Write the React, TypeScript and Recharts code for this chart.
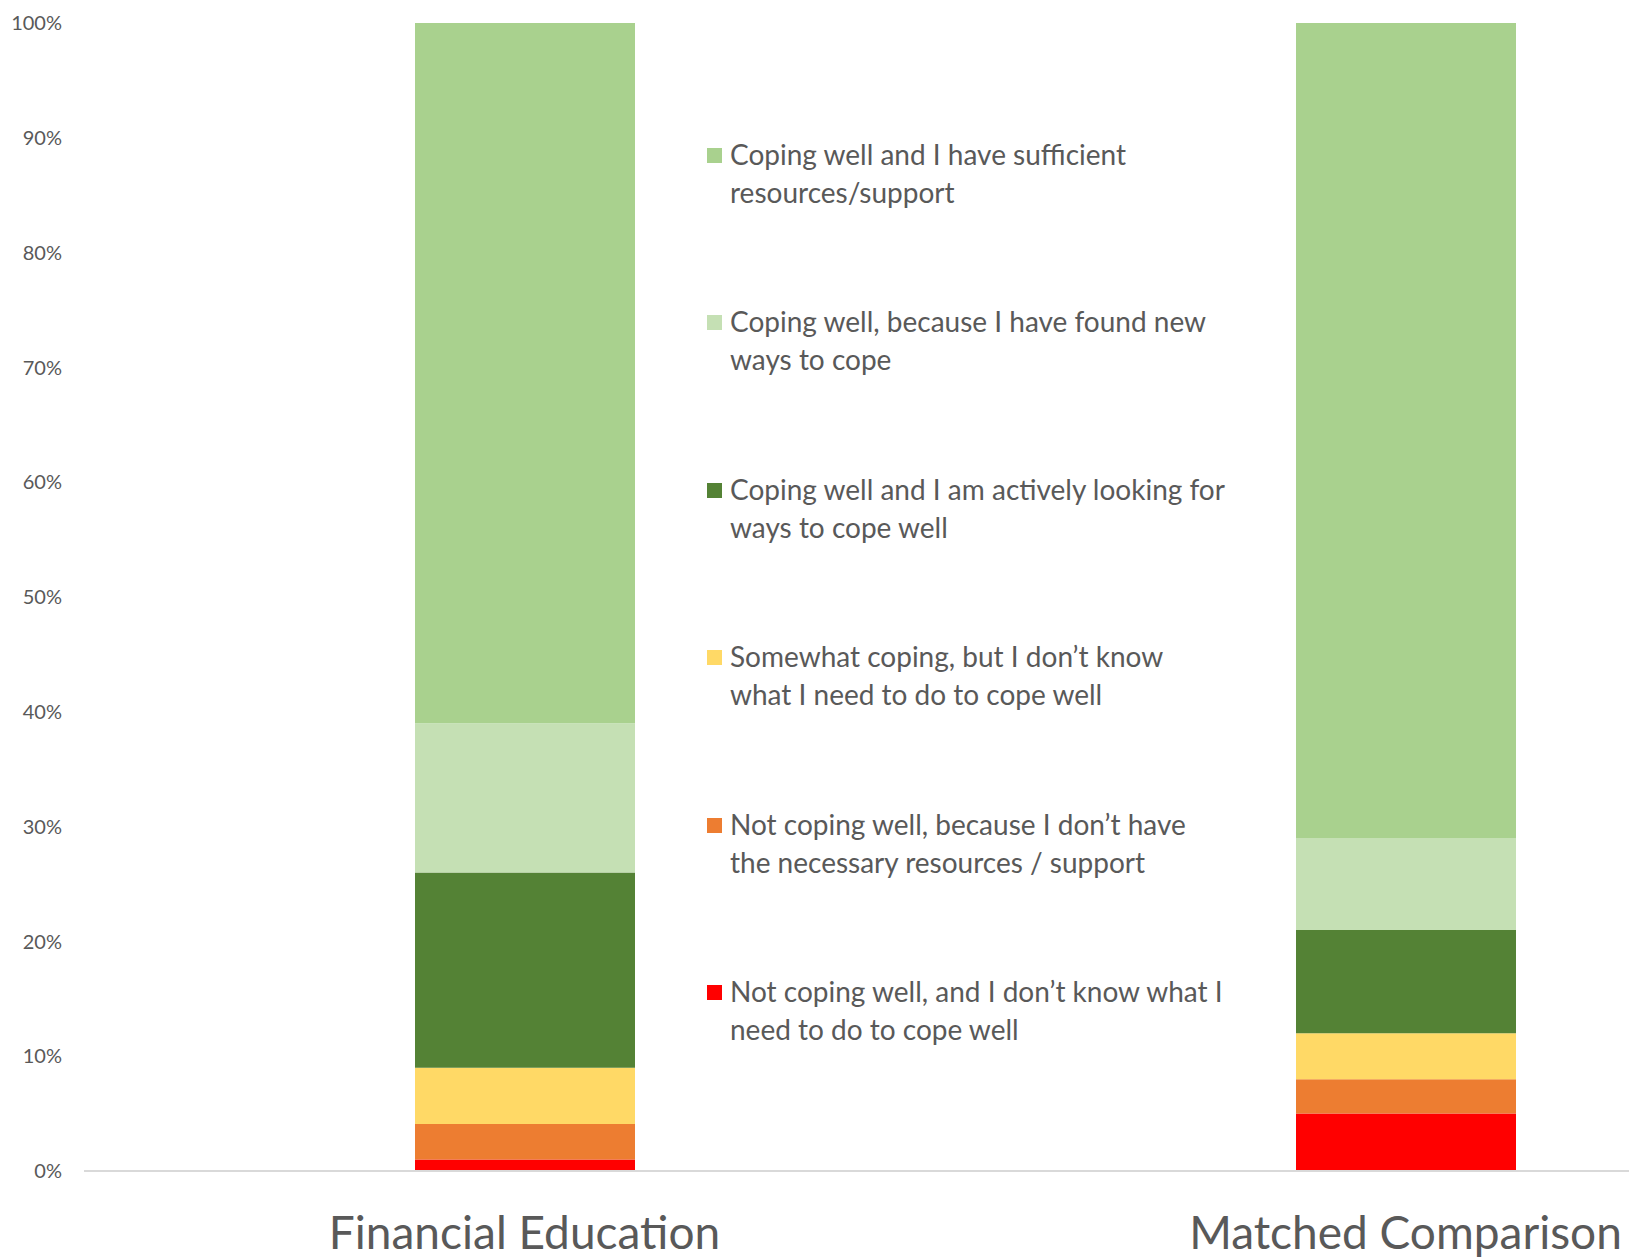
import { BarChart, Bar, XAxis, YAxis } from 'recharts';

// --- dados (percentuais empilhados, de baixo para cima) ---
const GROUPS = ['Financial Education', 'Matched Comparison'];
const NOT_WELL_DONT_KNOW = [1, 5];
const NOT_WELL_NO_RESOURCES = [3.1, 3];
const SOMEWHAT = [4.9, 4];
const ACTIVELY_LOOKING = [17, 9];
const FOUND_NEW_WAYS = [13, 8];
const SUFFICIENT = [61, 71];
const Y_TICKS = [0, 10, 20, 30, 40, 50, 60, 70, 80, 90, 100];

const SERIES = [
  { key: 'notWellDontKnow', values: NOT_WELL_DONT_KNOW, color: '#FF0000', label: 'Not coping well, and I don\u2019t know what I\nneed to do to cope well' },
  { key: 'notWellNoResources', values: NOT_WELL_NO_RESOURCES, color: '#ED7D31', label: 'Not coping well, because I don\u2019t have\nthe necessary resources / support' },
  { key: 'somewhat', values: SOMEWHAT, color: '#FFD966', label: 'Somewhat coping, but I don\u2019t know\nwhat I need to do to cope well' },
  { key: 'activelyLooking', values: ACTIVELY_LOOKING, color: '#548235', label: 'Coping well and I am actively looking for\nways to cope well' },
  { key: 'foundNewWays', values: FOUND_NEW_WAYS, color: '#C5E0B4', label: 'Coping well, because I have found new\nways to cope' },
  { key: 'sufficient', values: SUFFICIENT, color: '#A9D18E', label: 'Coping well and I have sufficient\nresources/support' },
];

const dados = GROUPS.map((g, i) => {
  const row: Record<string, string | number> = { group: g };
  SERIES.forEach(s => { row[s.key] = s.values[i]; });
  return row;
});

const FONTE = 'Lato, "Open Sans", sans-serif';
const CINZA = '#595959';

function TickCategoria(props: any) {
  const { x, y, payload } = props;
  return (
    <text x={x} y={y + 78} textAnchor="middle" fill={CINZA} fontSize={46} fontFamily={FONTE}>
      {payload.value}
    </text>
  );
}

export default function App() {
  const legenda = [...SERIES].reverse();
  return (
    <div style={{ position: 'fixed', left: 0, top: 0, width: 1629, height: 1260, overflow: 'hidden', background: '#fff' }}>
      <BarChart width={1846} height={1260} data={dados} margin={{ top: 23, right: 0, bottom: 0, left: 0 }}>
        <YAxis domain={[0, 100]} ticks={Y_TICKS} tickFormatter={(v: number) => `${v}%`} width={84}
          axisLine={false} tickLine={false} tickSize={0} tickMargin={22}
          tick={{ fontSize: 20, fill: CINZA, fontFamily: FONTE }} />
        <XAxis dataKey="group" height={89} tickLine={false} tickSize={0} tickMargin={0}
          axisLine={{ stroke: '#D9D9D9', strokeWidth: 2 }} tick={<TickCategoria />} />
        {SERIES.map(s => (
          <Bar key={s.key} dataKey={s.key} stackId="a" fill={s.color} barSize={220} isAnimationActive={false} />
        ))}
      </BarChart>
      {legenda.map((s, i) => (
        <div key={s.key} style={{ position: 'absolute', left: 707, top: 135 + i * 167.4, display: 'flex', alignItems: 'flex-start' }}>
          <div style={{ width: 15, height: 15, background: s.color, marginTop: 13, marginRight: 8 }} />
          <div style={{ whiteSpace: 'pre-line', fontFamily: FONTE, fontSize: 28, lineHeight: '38px', color: CINZA }}>{s.label}</div>
        </div>
      ))}
    </div>
  );
}
